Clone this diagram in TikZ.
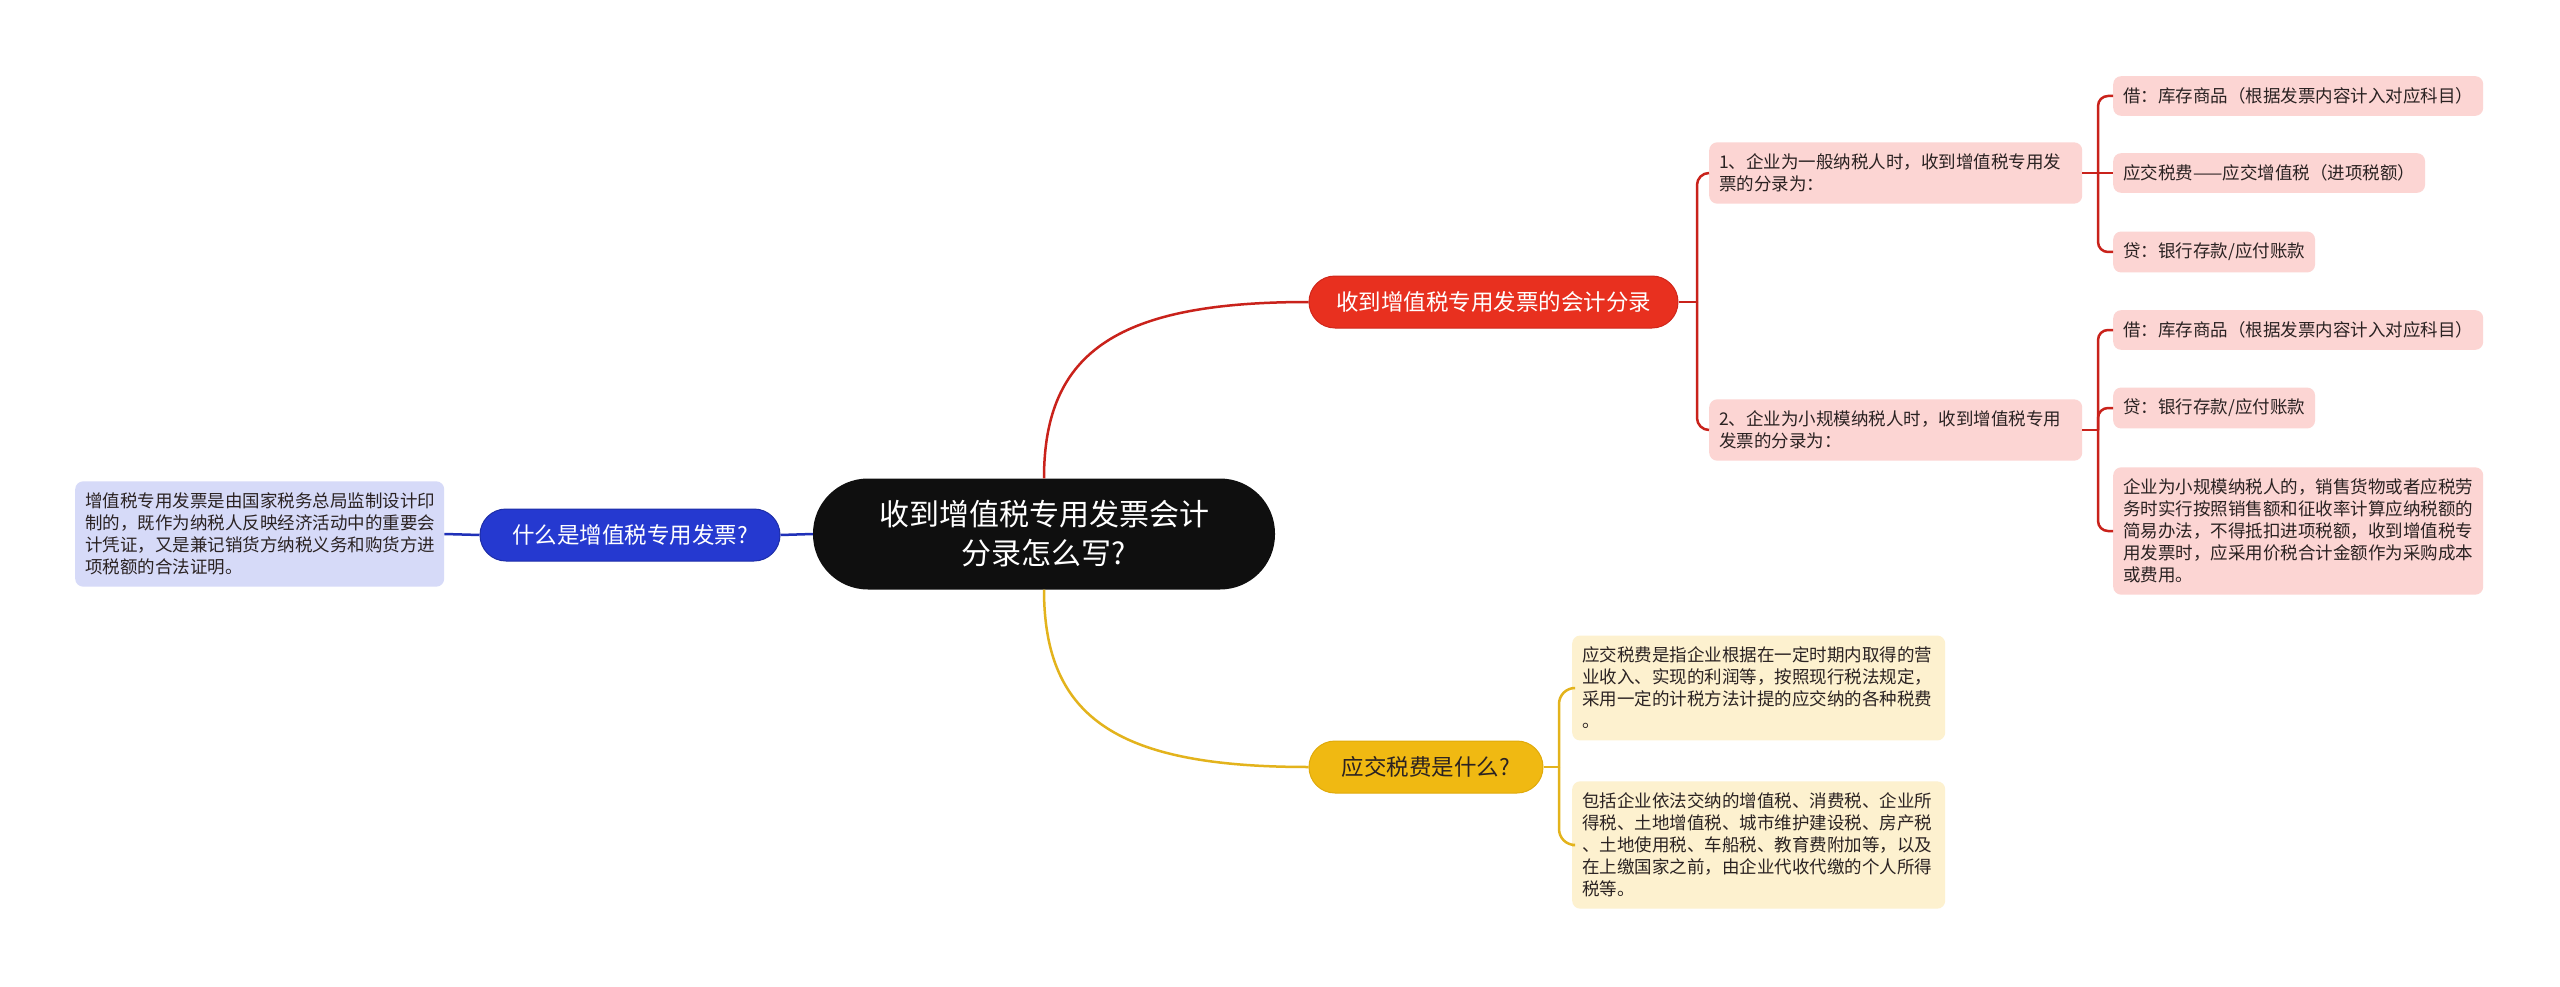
\documentclass[tikz,border=0pt]{standalone}
\usepackage{fontspec}
\setmainfont{Noto Sans CJK SC}
\definecolor{rootc}{HTML}{0F0F0F}
\definecolor{redc}{HTML}{E8301F}
\definecolor{redd}{HTML}{D0261A}
\definecolor{redl}{HTML}{C9221B}
\definecolor{pinkc}{HTML}{FCD5D3}
\definecolor{bluec}{HTML}{2539D0}
\definecolor{blued}{HTML}{1D2DA8}
\definecolor{bluel}{HTML}{1F30B8}
\definecolor{lavc}{HTML}{D6DAF8}
\definecolor{yelc}{HTML}{F0B912}
\definecolor{yeld}{HTML}{E0AA0A}
\definecolor{yell}{HTML}{E3B31C}
\definecolor{creamc}{HTML}{FDF1CF}
\definecolor{txtc}{HTML}{2A2222}
\begin{document}
\begin{tikzpicture}[x=1pt,y=-1pt,
  rootbox/.style={fill=rootc, text=white, rounded corners=55pt, minimum width=462pt, minimum height=111pt, font=\fontsize{30}{39}\selectfont, align=center, inner sep=0pt},
  mainbox/.style={rounded corners=26pt, minimum height=52pt, font=\fontsize{22.5}{27}\selectfont, inner sep=0pt, line width=1pt},
  leafbox/.style={rounded corners=8pt, font=\fontsize{17.5}{22}\selectfont, align=left, inner xsep=10pt, inner ysep=11.5pt, text=txtc},
  pinkbox/.style={leafbox, fill=pinkc},
  creambox/.style={leafbox, fill=creamc},
  lavbox/.style={leafbox, fill=lavc},
  redline/.style={draw=redl, line width=2.5pt},
  blueline/.style={draw=bluel, line width=2.5pt},
  yelline/.style={draw=yell, line width=2.5pt}
]
\useasboundingbox[fill=white] (0,0) rectangle (2560,987);

% nodes
\node[rootbox] (root) at (1044,534) {收到增值税专用发票会计\\分录怎么写?};
\node[mainbox, fill=bluec, draw=blued, text=white, minimum width=300pt] (blue) at (630,535) {什么是增值税专用发票?};
\node[lavbox, text width=349pt, anchor=west] (bdesc) at (75,534) {增值税专用发票是由国家税务总局监制设计印\\制的，既作为纳税人反映经济活动中的重要会\\计凭证，又是兼记销货方纳税义务和购货方进\\项税额的合法证明。};
\node[mainbox, fill=redc, draw=redd, text=white, minimum width=369pt] (red) at (1493.5,302) {收到增值税专用发票的会计分录};
\node[mainbox, fill=yelc, draw=yeld, text=txtc, minimum width=234pt] (yel) at (1426,767) {应交税费是什么?};

\node[pinkbox, text width=353pt, anchor=west] (c1) at (1709,173) {1、企业为一般纳税人时，收到增值税专用发\\票的分录为：};
\node[pinkbox, text width=353pt, anchor=west] (c2) at (1709,430) {2、企业为小规模纳税人时，收到增值税专用\\发票的分录为：};

\node[pinkbox, anchor=west] (g11) at (2113,96) {借：库存商品（根据发票内容计入对应科目）};
\node[pinkbox, anchor=west] (g12) at (2113,173) {应交税费——应交增值税（进项税额）};
\node[pinkbox, anchor=west] (g13) at (2113,252) {贷：银行存款/应付账款};
\node[pinkbox, anchor=west] (g21) at (2113,330) {借：库存商品（根据发票内容计入对应科目）};
\node[pinkbox, anchor=west] (g22) at (2113,408) {贷：银行存款/应付账款};
\node[pinkbox, text width=350pt, anchor=west] (g23) at (2113,531) {企业为小规模纳税人的，销售货物或者应税劳\\务时实行按照销售额和征收率计算应纳税额的\\简易办法，不得抵扣进项税额，收到增值税专\\用发票时，应采用价税合计金额作为采购成本\\或费用。};

\node[creambox, text width=353pt, anchor=west] (y1) at (1572,688) {应交税费是指企业根据在一定时期内取得的营\\业收入、实现的利润等，按照现行税法规定，\\采用一定的计税方法计提的应交纳的各种税费\\。};
\node[creambox, text width=353pt, anchor=west] (y2) at (1572,845) {包括企业依法交纳的增值税、消费税、企业所\\得税、土地增值税、城市维护建设税、房产税\\、土地使用税、车船税、教育费附加等，以及\\在上缴国家之前，由企业代收代缴的个人所得\\税等。};

% junction coordinates
\coordinate (rj) at (1697,302);
\coordinate (j1) at (2098,173);
\coordinate (j2) at (2098,430);
\coordinate (yj) at (1559,767);

% connectors
\begin{scope}[on background layer/.style={}]
\draw[redline] (root.north) .. controls (1044,350) and (1120,302) .. (red.west);
\draw[yelline] (root.south) .. controls (1044,720) and (1120,767) .. (yel.west);
\draw[blueline] (root.west) -- (blue.east);
\draw[blueline] (blue.west) -- (bdesc.east);

\draw[redline] (red.east) -- (rj);
\draw[redline, rounded corners=12pt] (rj) |- (c1.west);
\draw[redline, rounded corners=12pt] (rj) |- (c2.west);

\draw[redline] (c1.east) -- (j1);
\draw[redline, rounded corners=10pt] (j1) |- (g11.west);
\draw[redline] (j1) -- (g12.west);
\draw[redline, rounded corners=10pt] (j1) |- (g13.west);

\draw[redline] (c2.east) -- (j2);
\draw[redline, rounded corners=10pt] (j2) |- (g21.west);
\draw[redline, rounded corners=10pt] (j2) |- (g22.west);
\draw[redline, rounded corners=10pt] (j2) |- (g23.west);

\draw[yelline] (yel.east) -- (yj);
\draw[yelline, rounded corners=16pt] (yj) |- (y1.west);
\draw[yelline, rounded corners=16pt] (yj) |- (y2.west);
\end{scope}
\end{tikzpicture}
\end{document}
